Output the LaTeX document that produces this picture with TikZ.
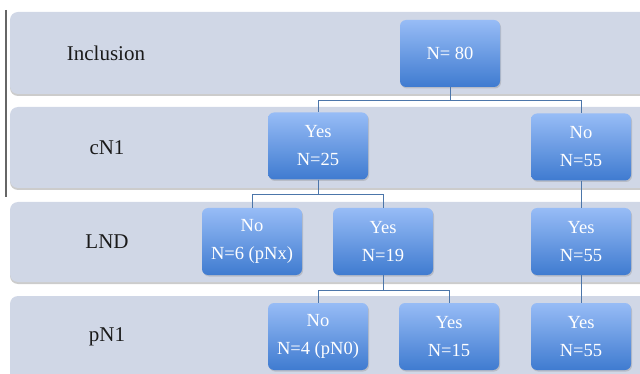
\documentclass[tikz,border=0pt]{standalone}
\usepackage{fontspec}
\setmainfont{Liberation Serif}
\usetikzlibrary{shadows}
\definecolor{bandfill}{HTML}{D0D7E6}
\definecolor{boxtop}{HTML}{97BCF6}
\definecolor{boxbot}{HTML}{3F7BD0}
\definecolor{linkcol}{HTML}{4C76AA}
\definecolor{labtext}{HTML}{1A1A1A}
\begin{document}
\begin{tikzpicture}[x=1pt,y=-1pt,
  band/.style={fill=bandfill,rounded corners=8pt,drop shadow={shadow xshift=0pt,shadow yshift=-2pt,opacity=0.4,fill=gray}},
  rowlabel/.style={text=labtext,font=\fontsize{21}{25}\selectfont},
  box/.style={rounded corners=6pt,top color=boxtop,bottom color=boxbot,draw=none,
    minimum width=100pt,minimum height=67pt,inner sep=0pt,align=center,text=white,
    font=\fontsize{18.5}{28}\selectfont,
    drop shadow={shadow xshift=1pt,shadow yshift=-1.5pt,opacity=0.3}},
  link/.style={draw=linkcol,line width=0.9pt}]
\useasboundingbox (0,0) rectangle (640,374);
\begin{scope}
\clip (0,0) rectangle (640,374);
% bands
\path[band] (10,12) rectangle (670,94);
\path[band] (10,107) rectangle (670,188);
\path[band] (10,202) rectangle (670,282);
\path[band] (10,296) rectangle (670,400);
% left rule
\draw[gray!80!black,line width=1.3pt] (6,10) -- (6,197);
% row labels
\node[rowlabel] (lInc) at (106,53) {Inclusion};
\node[rowlabel] (lcN) at (107,148) {cN1};
\node[rowlabel] (lLND) at (107,242) {LND};
\node[rowlabel] (lpN) at (107,337) {pN1};
% boxes
\node[box] (n80) at (450,53.5) {N= 80};
\node[box] (cy) at (318,146) {Yes\\N=25};
\node[box] (cn) at (581,147) {No\\N=55};
\node[box] (ln) at (252,241.5) {No\\N=6 (pNx)};
\node[box] (ly) at (383,241.5) {Yes\\N=19};
\node[box] (ly55) at (581,241.5) {Yes\\N=55};
\node[box] (pn) at (318,336.5) {No\\N=4 (pN0)};
\node[box] (py) at (449,336.5) {Yes\\N=15};
\node[box] (py55) at (581,336.5) {Yes\\N=55};
% connectors
\draw[link] (n80.south) -- ++(0,13) -| (cy.north);
\draw[link] (n80.south) -- ++(0,13) -| (cn.north);
\draw[link] (cy.south) -- ++(0,15) -| (ln.north);
\draw[link] (cy.south) -- ++(0,15) -| (ly.north);
\draw[link] (cn.south) -- (ly55.north);
\draw[link] (ly.south) -- ++(0,15) -| (pn.north);
\draw[link] (ly.south) -- ++(0,15) -| (py.north);
\draw[link] (ly55.south) -- (py55.north);
\end{scope}
\end{tikzpicture}
\end{document}
